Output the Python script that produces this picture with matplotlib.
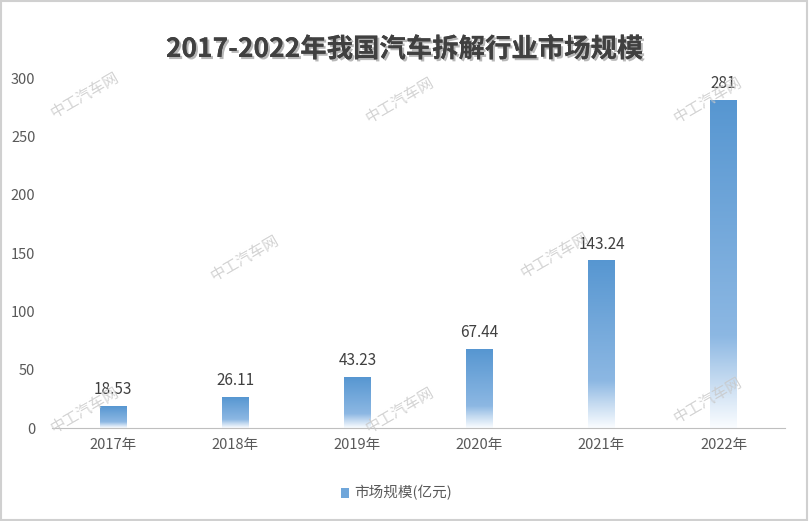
import numpy as np
import matplotlib
matplotlib.use("Agg")
import matplotlib.pyplot as plt
import matplotlib.patheffects as pe
from matplotlib.patches import Rectangle

plt.rcParams['font.family'] = ['Noto Sans CJK SC', 'DejaVu Sans']

# datos
years = ["2017年", "2018年", "2019年", "2020年", "2021年", "2022年"]
values = [18.53, 26.11, 43.23, 67.44, 143.24, 281]
labels = ["18.53", "26.11", "43.23", "67.44", "143.24", "281"]
title = "2017-2022年我国汽车拆解行业市场规模"
legend_label = "市场规模(亿元)"
watermark = "中工汽车网"

# gradiente azul -> blanco (arriba -> abajo)
stops_t = [0.0, 0.72, 0.85, 1.0]
stops_c = np.array([[0.34, 0.59, 0.82],
                    [0.55, 0.72, 0.89],
                    [0.76, 0.85, 0.94],
                    [0.98, 0.99, 1.00]])
n = 200
t = np.linspace(0, 1, n)
col = np.stack([np.interp(t, stops_t, stops_c[:, k]) for k in range(3)], axis=1)
grad = np.concatenate([col, np.ones((n, 1))], axis=1)[:, None, :]

fig = plt.figure(figsize=(8.09, 5.21), dpi=100)
ax = fig.add_axes([0.0643, 0.1785, 0.9057, 0.6715])

x = np.arange(len(years))
w = 0.22
for xi, v, lab in zip(x, values, labels):
    ax.imshow(grad, extent=[xi - w / 2, xi + w / 2, 0, v], aspect='auto', zorder=2,
              interpolation='bilinear')
    ax.text(xi, v + 7, lab, ha='center', va='bottom', fontsize=11, color='#404040',
            zorder=5)

ax.set_xlim(-0.5, len(years) - 0.5)
ax.set_ylim(0, 300)
ax.set_xticks(x)
ax.set_xticklabels(years)
ax.set_yticks(np.arange(0, 301, 50))
ax.tick_params(axis='both', length=0, labelsize=10.5, labelcolor='#595959')
ax.tick_params(axis='y', pad=12)
ax.tick_params(axis='x', pad=7)
for s in ['top', 'right', 'left']:
    ax.spines[s].set_visible(False)
ax.spines['bottom'].set_color('#BFBFBF')

# titulo con sombra
fig.text(0.5, 0.905, title, ha='center', va='center', fontsize=19, fontweight='bold',
         color='#404040',
         path_effects=[pe.withSimplePatchShadow(offset=(1.5, -1.5), alpha=0.3),
                       pe.Normal()])

# leyenda
fig.patches.append(Rectangle((0.421, 0.045), 0.011, 0.018, transform=fig.transFigure,
                             facecolor='#6FA6DA', edgecolor='none'))
fig.text(0.438, 0.054, legend_label, ha='left', va='center', fontsize=10.5,
         color='#595959')

# marcas de agua
wm = [(85, 95), (400, 100), (708, 100), (245, 258), (555, 255),
      (85, 410), (400, 410), (708, 400)]
for px, py in wm:
    fig.text(px / 809, 1 - py / 521, watermark, ha='center', va='center', fontsize=11,
             color='#C8C8C8', rotation=30, alpha=0.8, zorder=10)

# marco
fig.patches.append(Rectangle((0.001, 0.001), 0.997, 0.997, transform=fig.transFigure,
                             facecolor='none', edgecolor='#D0D0D0', linewidth=1.5))

fig.savefig("out.png", dpi=100)
